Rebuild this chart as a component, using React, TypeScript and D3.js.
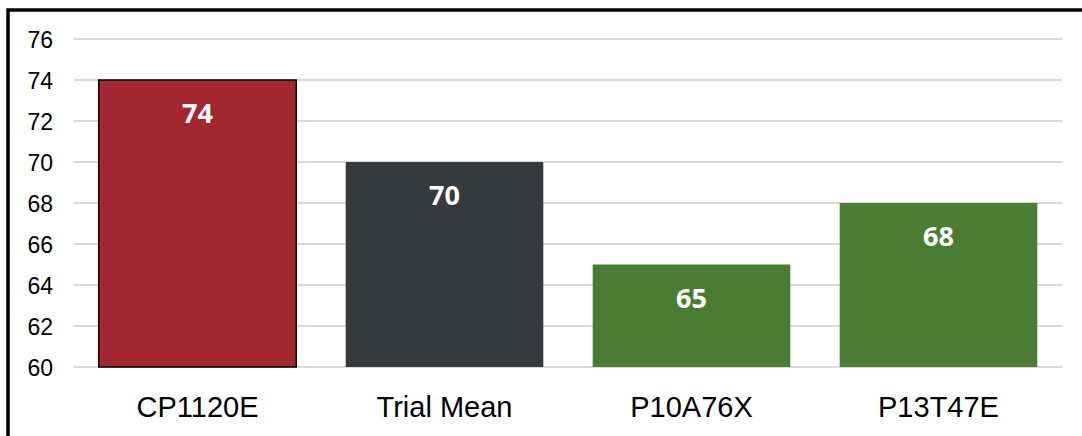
import React from "react";
import * as d3 from "d3";

const categories = ["CP1120E", "Trial Mean", "P10A76X", "P13T47E"];
const values = [74, 70, 65, 68];
const barColors = ["#A12731", "#373A3D", "#4A7C33", "#4A7C33"];
const yTicks = [60, 62, 64, 66, 68, 70, 72, 74, 76];

export default function App() {
  const W = 1082, H = 436;
  const x = d3.scaleBand<string>().domain(categories).range([74, 1062]).paddingInner(0.2).paddingOuter(0.1);
  const y = d3.scaleLinear().domain([60, 76]).range([367, 39]);
  return (
    <svg width={W} height={H} style={{ position: "absolute", left: 0, top: 0, background: "#fff" }}>
      <rect x={8} y={10} width={1100} height={460} fill="#fff" stroke="#000" strokeWidth={3.5} />
      {yTicks.map((t) => (
        <g key={t}>
          <line x1={74} x2={1062} y1={y(t)} y2={y(t)} stroke="#d9d9d9" strokeWidth={2} />
          <text x={53} y={y(t) + 9} textAnchor="end" fontFamily="Liberation Sans, Arial, sans-serif" fontSize={23} fill="#000">
            {t}
          </text>
        </g>
      ))}
      {categories.map((c, i) => (
        <g key={c}>
          <rect
            x={x(c)!}
            y={y(values[i])}
            width={x.bandwidth()}
            height={y(60) - y(values[i])}
            fill={barColors[i]}
            stroke={i === 0 ? "#000" : "none"}
            strokeWidth={1.5}
          />
          <text
            x={x(c)! + x.bandwidth() / 2}
            y={y(values[i]) + 43}
            textAnchor="middle"
            fontFamily="Open Sans, sans-serif"
            fontWeight="bold"
            fontSize={27}
            fill="#fff"
          >
            {values[i]}
          </text>
          <text
            x={x(c)! + x.bandwidth() / 2}
            y={417}
            textAnchor="middle"
            fontFamily="Liberation Sans, Arial, sans-serif"
            fontSize={29}
            fill="#000"
          >
            {c}
          </text>
        </g>
      ))}
    </svg>
  );
}
